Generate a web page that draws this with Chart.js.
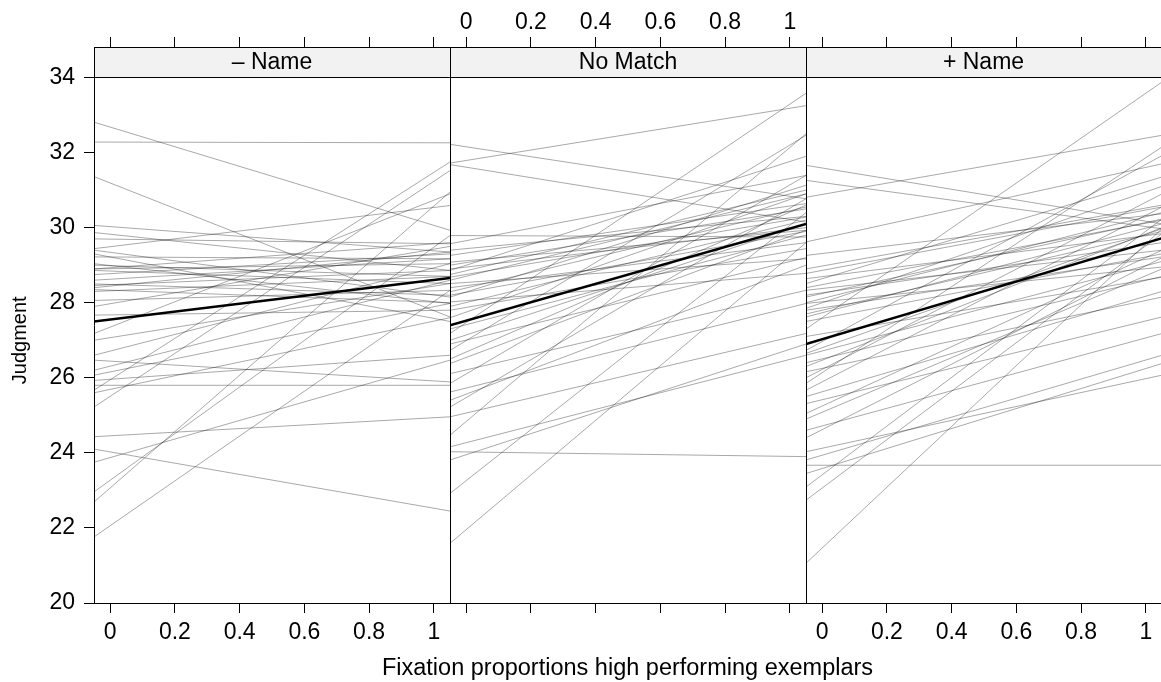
<!DOCTYPE html>
<html>
<head>
<meta charset="utf-8">
<title>Judgment by fixation proportions</title>
<script src="https://cdn.jsdelivr.net/npm/chart.js@4.4.1/dist/chart.umd.min.js"></script>
<style>
  html, body { margin: 0; padding: 0; background: #fff; }
  #wrap { position: relative; width: 1161px; height: 682px; overflow: hidden; }
  #wrap canvas { position: absolute; left: 0; top: 0; }
</style>
</head>
<body>
<div id="wrap">
  <canvas id="p0" width="1161" height="682"></canvas>
  <canvas id="p1" width="1161" height="682"></canvas>
  <canvas id="p2" width="1161" height="682"></canvas>
</div>
<script>
const panelLabels = ["– Name", "No Match", "+ Name"];
const xTitle = "Fixation proportions high performing exemplars";
const yTitle = "Judgment";
const xTicks = [0, 0.2, 0.4, 0.6, 0.8, 1];
const yTicks = [20, 22, 24, 26, 28, 30, 32, 34];
const lineX = [-0.05, 1.05]; // fitted lines run edge to edge of each panel

// one fitted line per participant: judgment at left edge / right edge
const minusNameStart = [32.81, 32.28, 31.36, 30.06, 29.87, 29.70, 29.44, 29.40, 29.30, 29.22, 29.04, 28.90,
  28.86, 28.60, 28.46, 28.40, 28.30, 28.06, 27.67, 27.18, 27.00, 26.60, 26.47, 26.07, 25.93, 25.80,
  25.67, 25.22, 24.43, 24.10, 23.75, 22.96, 22.69, 21.76,
  29.00, 28.75, 28.50, 28.90, 28.35, 27.90, 26.20, 25.60];
const minusNameEnd = [29.93, 32.26, 27.62, 29.35, 28.86, 29.57, 30.59, 28.15, 27.50, 29.17, 27.98, 29.04,
  28.51, 29.17, 28.86, 29.35, 28.70, 28.33, 27.80, 30.90, 28.51, 29.04, 25.89, 27.98, 26.60, 25.80,
  31.75, 31.52, 24.96, 22.45, 26.47, 29.79, 30.95, 28.33,
  28.70, 29.30, 28.20, 29.60, 28.00, 29.50, 28.60, 27.60];

const noMatchStart = [32.22, 31.72, 31.68, 29.79, 29.57, 29.40, 29.26, 29.08, 28.90, 28.86, 28.68, 28.51,
  28.40, 28.29, 28.15, 28.02, 27.80, 27.60, 27.18, 27.00, 26.90, 26.73, 26.38, 26.11, 25.85, 25.62,
  25.22, 24.96, 24.47, 24.16, 24.03, 23.81, 22.92, 21.59,
  29.00, 28.60, 28.20, 27.90, 27.30, 26.50, 25.40, 28.75];
const noMatchEnd = [30.77, 33.25, 30.15, 29.75, 31.39, 30.30, 30.64, 29.93, 30.00, 31.90, 30.28, 29.17,
  29.60, 30.55, 31.13, 28.78, 29.44, 30.90, 33.58, 30.10, 29.20, 32.46, 29.93, 28.33, 31.39, 27.98,
  30.77, 27.18, 32.50, 26.60, 23.90, 26.90, 30.40, 29.60,
  30.50, 30.90, 29.90, 30.20, 29.80, 30.60, 29.00, 31.00];

const plusNameStart = [31.66, 31.26, 30.81, 29.62, 29.26, 28.90, 28.78, 28.64, 28.51, 28.40, 28.33, 28.15,
  27.98, 27.80, 27.62, 27.50, 27.30, 27.10, 26.73, 26.65, 26.40, 26.16, 26.00, 25.85, 25.67, 25.31,
  25.05, 24.90, 24.60, 24.03, 23.81, 23.67, 23.45, 23.09, 22.74, 21.06,
  28.20, 28.00, 27.70, 26.60, 26.30, 25.50, 24.40, 27.85];
const plusNameEnd = [30.10, 29.97, 32.46, 31.70, 30.37, 30.60, 30.55, 29.84, 31.35, 30.20, 29.40, 30.23,
  28.95, 29.22, 30.10, 29.30, 33.88, 28.68, 31.92, 29.97, 28.70, 28.15, 30.90, 32.15, 30.55, 27.62,
  29.40, 28.90, 27.18, 26.07, 26.60, 23.67, 26.38, 30.23, 29.84, 29.97,
  29.60, 30.40, 29.90, 29.10, 30.00, 28.30, 29.20, 31.10];

// group mean line per panel
const meanStart = [27.50, 27.40, 26.90];
const meanEnd = [28.66, 30.10, 29.72];

// layout (pixels)
const panelLeft = [94, 450, 806];
const panelRight = [450, 806, 1161];
const plotTop = 47, plotBottom = 603, stripBottom = 77.5;
const xMin = -0.05;
const pxPerUnit = 356 / 1.1;
// y axis is stretched above 34 so the strip sits inside the plot box
const yMax = 20 + (plotBottom - plotTop) / ((plotBottom - stripBottom) / 14);
const FONT = '"Liberation Sans", Arial, Helvetica, sans-serif';

Chart.defaults.font.family = FONT;
Chart.defaults.font.size = 23;
Chart.defaults.color = '#000';

const stripPlugin = {
  id: 'strip',
  beforeDraw(chart, args, opts) {
    const { ctx, chartArea: a } = chart;
    ctx.save();
    ctx.fillStyle = '#f2f2f2';
    ctx.fillRect(a.left, a.top, a.right - a.left, stripBottom - a.top);
    ctx.strokeStyle = '#000';
    ctx.lineWidth = 1;
    ctx.beginPath();
    ctx.moveTo(a.left, stripBottom);
    ctx.lineTo(a.right, stripBottom);
    ctx.stroke();
    ctx.fillStyle = '#000';
    ctx.font = '23px ' + FONT;
    ctx.textAlign = 'center';
    ctx.textBaseline = 'middle';
    ctx.fillText(opts.label, (a.left + a.right) / 2, (a.top + stripBottom) / 2 + 0.5);
    ctx.restore();
  }
};

// axis titles for the whole figure (not squeezed into one panel's width)
const figureTitles = {
  id: 'figureTitles',
  afterDraw(chart) {
    const ctx = chart.ctx;
    ctx.save();
    ctx.fillStyle = '#000';
    ctx.textAlign = 'center';
    ctx.textBaseline = 'middle';
    ctx.font = '23.5px ' + FONT;
    ctx.fillText(xTitle, (panelLeft[0] + panelRight[2]) / 2, 669);
    ctx.translate(20, (stripBottom + plotBottom) / 2);
    ctx.rotate(-Math.PI / 2);
    ctx.font = '20px ' + FONT;
    ctx.fillText(yTitle, 0, 0);
    ctx.restore();
  }
};

function xAxis(pos, showLabels, pad, xMax) {
  return {
    type: 'linear', axis: 'x', position: pos, min: xMin, max: xMax,
    afterBuildTicks: s => { s.ticks = xTicks.map(v => ({ value: v })); },
    afterFit: s => { s.height = pos === 'top' ? plotTop : 682 - plotBottom; },
    grid: { drawOnChartArea: false, tickLength: 10, color: '#000' },
    border: { color: '#000', width: 1 },
    ticks: { autoSkip: false, maxRotation: 0, padding: pad, callback: v => showLabels ? String(v) : '' }
  };
}

function makePanel(i, starts, ends) {
  const first = i === 0, mid = i === 1;
  const xMax = xMin + (panelRight[i] - panelLeft[i]) / pxPerUnit;

  const datasets = [{
    data: [{ x: lineX[0], y: meanStart[i] }, { x: lineX[1], y: meanEnd[i] }],
    borderColor: '#000', borderWidth: 2.5, order: 0
  }];
  starts.forEach((s, j) => {
    datasets.push({
      data: [{ x: lineX[0], y: s }, { x: lineX[1], y: ends[j] }],
      borderColor: 'rgba(0,0,0,0.34)', borderWidth: 1, order: 1
    });
  });

  new Chart(document.getElementById('p' + i), {
    type: 'line',
    data: { datasets },
    plugins: mid ? [stripPlugin, figureTitles] : [stripPlugin],
    options: {
      responsive: false,
      animation: false,
      events: [],
      clip: 0,
      elements: { point: { radius: 0 }, line: { tension: 0 } },
      layout: { padding: { left: 0, right: 1161 - panelRight[i], top: 0, bottom: 0 } },
      plugins: {
        legend: { display: false },
        tooltip: { enabled: false },
        strip: { label: panelLabels[i] }
      },
      scales: {
        x: xAxis('bottom', !mid, 6, xMax),
        xTop: xAxis('top', mid, 1, xMax),
        y: {
          min: 20, max: yMax, position: 'left',
          afterBuildTicks: s => { s.ticks = yTicks.map(v => ({ value: v })); },
          afterFit: s => { s.width = panelLeft[i]; },
          grid: { display: first, drawOnChartArea: false, tickLength: 10, color: '#000' },
          border: { display: true, color: '#000', width: 1 },
          ticks: { display: first, padding: 9 }
        }
      }
    }
  });
}

makePanel(0, minusNameStart, minusNameEnd);
makePanel(1, noMatchStart, noMatchEnd);
makePanel(2, plusNameStart, plusNameEnd);
</script>
</body>
</html>
